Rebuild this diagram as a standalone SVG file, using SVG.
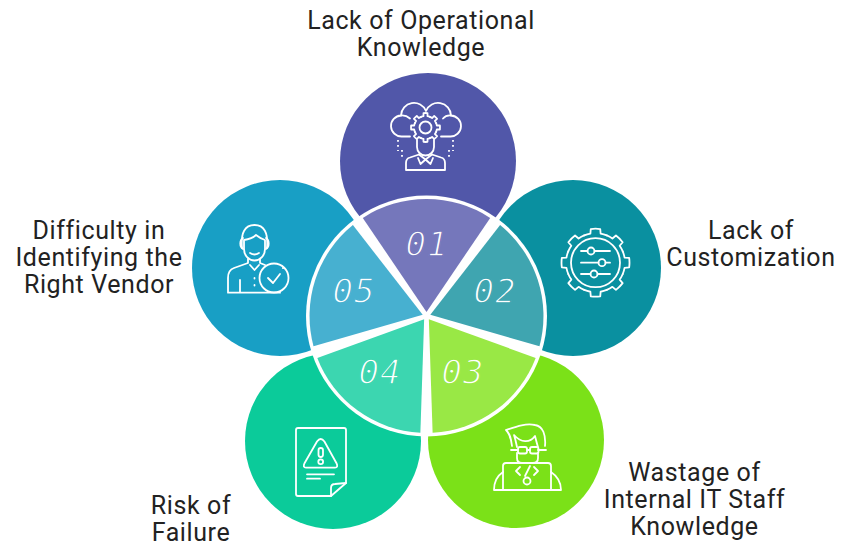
<svg xmlns="http://www.w3.org/2000/svg" xmlns:xlink="http://www.w3.org/1999/xlink" width="850" height="550" viewBox="0 0 850 550">
<style>
.lbl{font-family:Roboto,"Liberation Sans",sans-serif;font-size:25px;fill:#222;text-anchor:middle;letter-spacing:.6px}
.num{font-family:"DejaVu Sans Mono","Liberation Mono",monospace;font-style:italic;font-size:34px;fill:#fff;text-anchor:middle;stroke-width:1.3px;letter-spacing:1px}
.ic{fill:none;stroke:#fff;stroke-width:1.8;stroke-linecap:round;stroke-linejoin:round}
.dots{fill:none;stroke:#fff;stroke-width:1.8;stroke-dasharray:1.8 3.2}
.pad{fill:#fff}
</style>
<defs>
<path id="pad" d="M426.5,316L355.7,218.5A120.5,120.5 0 0 1 497.3,218.5Z"/>
<path id="sector" d="M426.5,312L362.8,217.9A117,117 0 0 1 490.2,217.9Z"/>
<path id="t1" d="M-4.4,-10.62A11.5,11.5 0 0 1 -2,-11.33L-2.02,-14.36A14.5,14.5 0 0 1 2.02,-14.36L2,-11.33A11.5,11.5 0 0 1 4.4,-10.62"/>
<path id="t2" d="M-11.29,-27.25A29.5,29.5 0 0 1 -5.12,-29.05L-4.73,-33.67A34,34 0 0 1 4.73,-33.67L5.12,-29.05A29.5,29.5 0 0 1 11.29,-27.25"/>
</defs>
<g id="node-01">
<circle cx="428" cy="161" r="88" fill="#5157a9"/>
<use href="#pad" class="pad"/>
<use href="#sector" fill="#7577bb"/>
<g class="ic">
<path d="M410,136.5H402a10.5,10.5 0 0 1 -1,-21a13,13 0 0 1 25,-4.5a13,13 0 0 1 25,4.5a10.5,10.5 0 0 1 -1,21H441"/>
<path d="M401,115.5q5,-.5 9,3M451,115.5q-5,-.5 -8,3"/>
<g transform="translate(425.5,127.5)">
<use href="#t1"/><use href="#t1" transform="rotate(45)"/><use href="#t1" transform="rotate(90)"/><use href="#t1" transform="rotate(135)"/><use href="#t1" transform="rotate(180)"/><use href="#t1" transform="rotate(225)"/><use href="#t1" transform="rotate(270)"/><use href="#t1" transform="rotate(315)"/>
<circle r="6"/>
</g>
<path d="M417,140V147a8.5,8.5 0 0 0 17,0V140"/>
<path d="M406,170H445M406,170V163q0,-4.500 4,-5.500l9,-3M445,170V163q0,-4.500 -4,-5.500l-9,-3"/>
<path d="M419,154.500l6.500,5l6.500,-5M425.500,159.500l-5,4.500l-2.500,-6M425.500,159.500l5,4.500l2.500,-6"/>
</g>
<path class="dots" d="M398,140V151M402,150V160M453,140V151M449,150V160"/>
<text class="num" x="427" y="256" stroke="#7577bb">01</text>
<text class="lbl" x="421" y="28.500">Lack of Operational</text>
<text class="lbl" x="421" y="55.500">Knowledge</text>
</g>
<g id="node-02">
<circle cx="573" cy="268" r="88" fill="#0a90a0"/>
<use href="#pad" class="pad" transform="rotate(72 426.500 316)"/>
<use href="#sector" fill="#3fa5b0" transform="rotate(72 426.500 316)"/>
<g class="ic">
<g transform="translate(595.500,262.700)">
<use href="#t2"/><use href="#t2" transform="rotate(45)"/><use href="#t2" transform="rotate(90)"/><use href="#t2" transform="rotate(135)"/><use href="#t2" transform="rotate(180)"/><use href="#t2" transform="rotate(225)"/><use href="#t2" transform="rotate(270)"/><use href="#t2" transform="rotate(315)"/>
<circle r="24.500"/>
</g>
<path d="M581,251H587.500M594.500,251H610M581,262.700H598.500M605.500,262.700H610M581,274H590.500M597.500,274H610"/>
<circle cx="591" cy="251" r="3.500"/><circle cx="602" cy="262.700" r="3.500"/><circle cx="594" cy="274" r="3.500"/>
</g>
<text class="num" x="495" y="302.700" stroke="#3fa5b0">02</text>
<text class="lbl" x="751" y="238.500">Lack of</text>
<text class="lbl" x="751" y="265.500">Customization</text>
</g>
<g id="node-03">
<circle cx="516" cy="440" r="88" fill="#7be118"/>
<use href="#pad" class="pad" transform="rotate(144 426.500 316)"/>
<use href="#sector" fill="#99e845" transform="rotate(144 426.500 316)"/>
<g class="ic">
<path d="M503,472V466q0,-3 3,-3H548q3,0 3,3V472"/>
<path d="M494,490H561M503,472C497,476 494,482 494,490M551,472C557,476 561,482 561,490M503,472V490M551,472V490"/>
<path d="M520,467l-4,4l4,4M534,467l4,4l-4,4M530,466l-5,10"/>
<circle cx="527" cy="481" r="3.500"/>
<path d="M517,453v5q0,5 5,5M538,453v5q0,5 -5,5"/>
<path d="M511,450H518M527,450H530M538,450H546"/>
<rect x="518" y="447" width="9" height="6.500" rx="2"/><rect x="530" y="447" width="8.500" height="6.500" rx="2"/>
<path d="M512,446C511,438 510,434 506,430C515,427 525,423 535,425C543,426 546,435 545,446"/>
<path d="M517,447C516,442 515,438 514,435C521,443 530,443 535,436C536,440 537,444 538,447"/>
</g>
<text class="num" x="463" y="383.700" stroke="#99e845">03</text>
<text class="lbl" x="694.500" y="481">Wastage of</text>
<text class="lbl" x="694.500" y="507.500">Internal IT Staff</text>
<text class="lbl" x="694.500" y="534.500">Knowledge</text>
</g>
<g id="node-04">
<circle cx="333" cy="441" r="88" fill="#0bcb9a"/>
<use href="#pad" class="pad" transform="rotate(216 426.500 316)"/>
<use href="#sector" fill="#3cd6b0" transform="rotate(216 426.500 316)"/>
<g class="ic">
<path d="M331,496H298q-2,0 -2,-2V430q0,-2 2,-2H344q2,0 2,2V483L331,496Z"/>
<path d="M331,496V488q0,-4 4,-4L346,483"/>
<path d="M306,467.700q-3.500,0 -1.500,-4.500L317,441.500q3.700,-5 7.400,0L336.500,463.200q2,4.500 -1.500,4.500Z"/>
<rect x="318.500" y="448" width="4.500" height="9" rx="2.200"/>
<circle cx="320.700" cy="461.700" r="2.400"/>
<path d="M307,474.300H334M307,478.700H320"/>
</g>
<text class="num" x="380" y="383.700" stroke="#3cd6b0">04</text>
<text class="lbl" x="191" y="513.500">Risk of</text>
<text class="lbl" x="191" y="540.500">Failure</text>
</g>
<g id="node-05">
<circle cx="280" cy="268" r="88" fill="#189fc5"/>
<use href="#pad" class="pad" transform="rotate(288 426.500 316)"/>
<use href="#sector" fill="#47b0d0" transform="rotate(288 426.500 316)"/>
<g class="ic">
<path d="M242,248q-2,-23 12.500,-23q14.500,0 12.500,23"/>
<path d="M243,238a4.500,6 0 0 0 0,11M266,238a4.500,6 0 0 1 0,11"/>
<path d="M244,240V249a10.500,11.500 0 0 0 21,0V240q-4,-1 -9,-5q-4,4 -12,5Z"/>
<path d="M250,253q4.500,3 9,0"/>
<path d="M248,259V263L234,268q-6,2 -6,10V292.700H280"/>
<path d="M260,259V263l5,2M250,265l4.500,5l4.500,-5M240,280V292"/>
<circle cx="274" cy="278" r="14.500"/>
<path d="M268,278l5,5l7,-9"/>
<path d="M254.500,278v.5M254.500,285v.5M283,268v.2"/>
</g>
<text class="num" x="354" y="302.700" stroke="#47b0d0">05</text>
<text class="lbl" x="99" y="238.500">Difficulty in</text>
<text class="lbl" x="99" y="265.500">Identifying the</text>
<text class="lbl" x="99" y="292.500">Right Vendor</text>
</g>
<g id="connectors"/>
</svg>
